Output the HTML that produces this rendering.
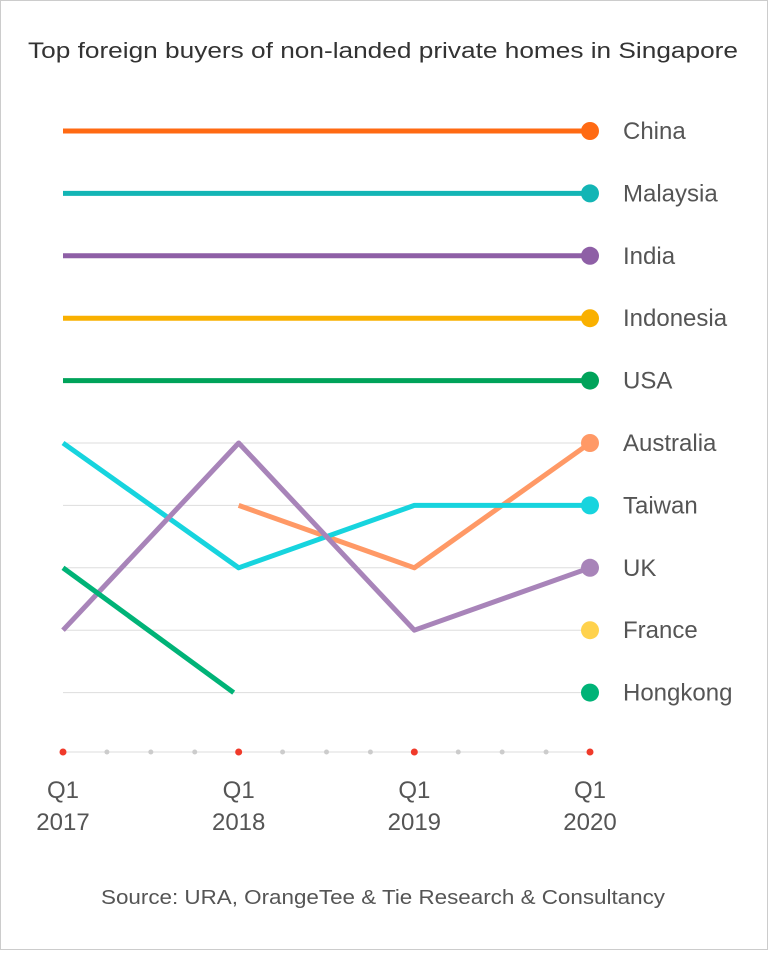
<!DOCTYPE html>
<html><head><meta charset="utf-8"><style>
html,body{margin:0;padding:0;background:#fff;}
body{width:768px;height:950px;overflow:hidden;font-family:"Liberation Sans",sans-serif;}
svg text{font-family:"Liberation Sans",sans-serif;}
</style></head><body>
<svg width="768" height="950" viewBox="0 0 768 950">
<rect x="0.5" y="0.5" width="767" height="949" fill="#fff" stroke="#cccccc"/>
<text x="28" y="58" font-size="22" fill="#333" textLength="710" lengthAdjust="spacingAndGlyphs">Top foreign buyers of non-landed private homes in Singapore</text>
<g id="grid"></g><g id="axis"></g><g id="lines"></g><g id="labels"></g>
<text x="101" y="904" font-size="20" fill="#555" textLength="564" lengthAdjust="spacingAndGlyphs">Source: URA, OrangeTee &amp; Tie Research &amp; Consultancy</text>
</svg>
<script>
const quarterCount = 13;
const tickIdx = [0, 4, 8, 12];
const tickYears = ["2017", "2018", "2019", "2020"];
const countries = ["China","Malaysia","India","Indonesia","USA","Australia","Taiwan","UK","France","Hongkong"];
const colors = ["#ff6a13","#13b5b5","#8e5fa6","#f9b000","#00a35a","#ff9966","#17d4de","#a884b9","#ffd24d","#00b377"];
const pointIdx = [0, 4, 8, 12];
const rankChina = [1,1,1,1];
const rankMalaysia = [2,2,2,2];
const rankIndia = [3,3,3,3];
const rankIndonesia = [4,4,4,4];
const rankUSA = [5,5,5,5];
const rankAustralia = [null,7,8,6];
const rankTaiwan = [6,8,7,7];
const rankUK = [9,6,9,8];
const rankFrance = [null,null,null,9];
const rankHongkong = [8,10,null,10];
const series = [rankChina,rankMalaysia,rankIndia,rankIndonesia,rankUSA,rankAustralia,rankTaiwan,rankUK,rankFrance,rankHongkong];
const NS="http://www.w3.org/2000/svg";
const x = i => 63 + i*(590-63)/(quarterCount-1);
const y = r => 131 + (r-1)*62.4;
function mk(tag, attrs, parent){const e=document.createElementNS(NS,tag);for(const k in attrs)e.setAttribute(k,attrs[k]);parent.appendChild(e);return e;}
const grid=document.getElementById('grid'), axis=document.getElementById('axis'), lines=document.getElementById('lines'), labels=document.getElementById('labels');
for(let r=1;r<=10;r++){const l=mk('line',{x1:63,x2:590,y1:y(r),y2:y(r),stroke:'#dddddd','stroke-width':1},grid);

}
mk('line',{x1:63,x2:590,y1:752,y2:752,stroke:'#dddddd','stroke-width':1},axis);
for(let i=0;i<quarterCount;i++){const major=tickIdx.includes(i);
const c=mk('circle',{cx:x(i),cy:752,r:major?3.5:2.5,fill:major?'#f03a2a':'#cccccc'},axis);

}
tickIdx.forEach((t,k)=>{const a=mk('text',{x:x(t),y:798,'text-anchor':'middle','font-size':24,fill:'#555'},axis);a.textContent='Q1';


const b=mk('text',{x:x(t),y:830,'text-anchor':'middle','font-size':24,fill:'#555'},axis);b.textContent=tickYears[k];

});
series.forEach((s,ci)=>{
 let seg=[];const segs=[];
 s.forEach((v,k)=>{if(v==null){if(seg.length)segs.push(seg);seg=[];}else seg.push([x(pointIdx[k]),y(v)]);});
 if(seg.length)segs.push(seg);
 const last=s[s.length-1];
 segs.forEach(sg=>{if(sg.length<2)return;
  if(ci===9&&sg===segs[0]) sg[sg.length-1][0]-=5;
  const p=mk('polyline',{points:sg.map(q=>q.join(',')).join(' '),fill:'none',stroke:colors[ci],'stroke-width':5,'stroke-linejoin':'round'},lines);
  
  });
 if(last!=null){const d=mk('circle',{cx:x(12),cy:y(last),r:9,fill:colors[ci]},lines);
  
  
  const t=mk('text',{x:623,y:y(last)+8,'font-size':24,fill:'#555'},labels);t.textContent=countries[ci];
  
  }
});
</script>
</body></html>
